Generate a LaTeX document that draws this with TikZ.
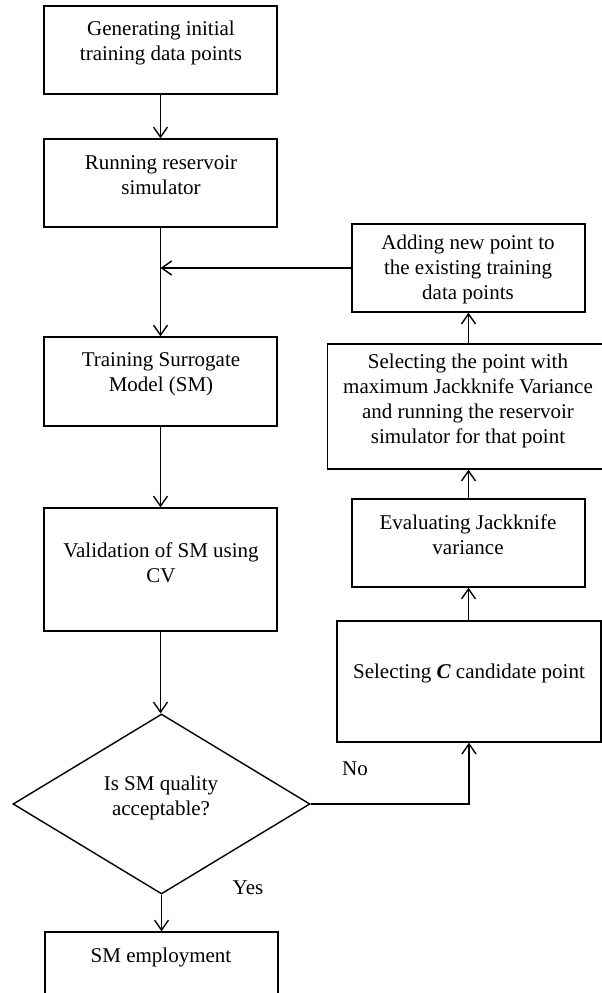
\documentclass[tikz,border=0pt]{standalone}
\usepackage{fontspec}
\setmainfont{Liberation Serif}
\usetikzlibrary{arrows.meta,shapes.geometric}
\begin{document}
\begin{tikzpicture}[x=1pt,y=-1pt,
  box/.style={draw, line width=1.4pt, rectangle, inner sep=0pt},
  dec/.style={draw, line width=1.4pt, diamond, inner sep=0pt, aspect=1.65},
  lbl/.style={font=\fontsize{21}{25}\selectfont, align=center, inner sep=0pt},
  arr/.style={-{Straight Barb[length=10pt,width=14pt]}, line width=1.4pt}]
\clip (0,0) rectangle (602,993);
% left column boxes
\node[box, minimum width=233pt, minimum height=88pt] (b1) at (160.5,50) {};
\node[box, minimum width=233pt, minimum height=88pt] (b2) at (160.5,183) {};
\node[box, minimum width=233pt, minimum height=89pt] (b3) at (160.5,381.5) {};
\node[box, minimum width=233pt, minimum height=123pt] (b4) at (160.5,569.5) {};
\node[dec, minimum width=297pt, minimum height=180pt] (d) at (161.5,804) {};
\node[box, minimum width=233pt, minimum height=88pt] (b5) at (161.5,976) {};
% right column boxes
\node[box, minimum width=233pt, minimum height=88pt] (ra) at (468.5,268) {};
\node[box, minimum width=282pt, minimum height=125pt] (rb) at (468.5,406.5) {};
\node[box, minimum width=233pt, minimum height=88pt] (rc) at (468.5,543) {};
\node[box, minimum width=264pt, minimum height=121pt] (rd) at (469,681.5) {};
% texts
\node[lbl] (t1) at (161,42.5) {Generating initial\\training data points};
\node[lbl] (t2) at (161,175) {Running reservoir\\simulator};
\node[lbl] (t3) at (161,374.5) {Training Surrogate\\Model (SM)};
\node[lbl] (t4) at (161,562.5) {Validation of SM using\\CV};
\node[lbl] (td) at (161,798) {Is SM quality\\acceptable?};
\node[lbl] (t5) at (161,957) {SM employment};
\node[lbl] (ta) at (468,269) {Adding new point to\\the existing training\\data points};
\node[lbl] (tb) at (468,401) {Selecting the point with\\maximum Jackknife Variance\\and running the reservoir\\simulator for that point};
\node[lbl] (tc) at (468,534.5) {Evaluating Jackknife\\variance};
\node[lbl] (tdd) at (469,673) {Selecting \textbf{\textit{C}} candidate point};
\node[lbl] (no) at (355,769) {No};
\node[lbl] (yes) at (248,888) {Yes};
% connectors
\coordinate (j) at (b2.south |- ra.west);
\draw[arr] (b1.south) -- (b2.north);
\draw[arr] (b2.south) -- (b3.north);
\draw[arr] (ra.west) -- (j);
\draw[arr] (b3.south) -- (b4.north);
\draw[arr] (b4.south) -- (b4.south |- d.north);
\draw[arr] (d.east) -| (rd.south);
\draw[arr] (rc.south |- rd.north) -- (rc.south);
\draw[arr] (rc.north) -- (rc.north |- rb.south);
\draw[arr] (rb.north) -- (ra.south);
\draw[arr] (d.south) -- (d.south |- b5.north);
\end{tikzpicture}
\end{document}
